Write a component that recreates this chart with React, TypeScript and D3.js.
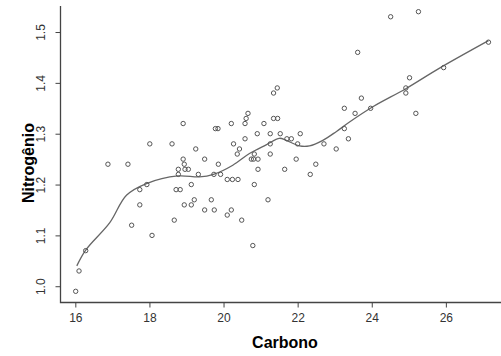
import React, { useRef, useEffect } from 'react';
import * as d3 from 'd3';

// scatter data
const carbono = [
  18.91, 18.01, 18.61, 19.25, 19.78, 19.85, 21.45, 21.35, 23.26, 20.66,
  20.21, 20.58, 20.61, 21.35, 21.46, 21.09, 23.26, 20.58, 20.91, 21.26,
  21.53, 22.07, 21.71, 21.83, 20.27, 21.26, 22.0, 22.71, 20.43, 23.04,
  23.37, 24.51, 25.26, 23.62, 27.15, 25.94, 25.02, 24.92, 24.92, 23.72,
  23.97, 23.55, 25.19, 16.88, 17.42, 18.91, 19.49, 18.94, 18.78, 18.96,
  19.05, 18.78, 19.32, 17.93, 17.74, 19.13, 18.72, 18.83, 17.74, 18.94,
  19.13, 19.21, 19.49, 18.67, 17.52, 18.07, 16.28, 16.1, 16.01, 20.37,
  20.83, 21.26, 19.86, 20.75, 20.81, 20.93, 21.96, 22.49, 20.93, 21.65,
  22.34, 19.92, 19.74, 20.1, 20.24, 20.39, 20.83, 19.67, 21.2, 19.75,
  20.21, 20.1, 20.49, 20.79,
];
const nitrogenio = [
  1.32, 1.28, 1.28, 1.27, 1.31, 1.31, 1.39, 1.38, 1.35, 1.34,
  1.32, 1.32, 1.33, 1.33, 1.33, 1.32, 1.31, 1.29, 1.3, 1.3,
  1.3, 1.3, 1.29, 1.29, 1.28, 1.28, 1.28, 1.28, 1.27, 1.27,
  1.29, 1.53, 1.54, 1.46, 1.48, 1.43, 1.41, 1.39, 1.38, 1.37,
  1.35, 1.34, 1.34, 1.24, 1.24, 1.25, 1.25, 1.24, 1.23, 1.23,
  1.23, 1.22, 1.22, 1.2, 1.19, 1.2, 1.19, 1.19, 1.16, 1.16,
  1.16, 1.17, 1.15, 1.13, 1.12, 1.1, 1.07, 1.03, 0.99, 1.26,
  1.26, 1.26, 1.24, 1.25, 1.25, 1.25, 1.25, 1.24, 1.23, 1.23,
  1.22, 1.22, 1.22, 1.21, 1.21, 1.21, 1.2, 1.17, 1.17, 1.15,
  1.15, 1.14, 1.13, 1.08,
];

// smoothed curve
const curveX = [
  16.04, 16.28, 16.93, 17.38, 17.92, 18.77, 19.35, 19.73, 20.25, 20.7,
  21.15, 21.51, 21.69, 22.05, 22.32, 22.68, 23.04, 23.4, 24.03, 24.93,
  25.83, 27.15,
];
const curveY = [
  1.04, 1.071, 1.125, 1.179, 1.202, 1.217, 1.215, 1.22, 1.238, 1.261,
  1.278, 1.291, 1.287, 1.276, 1.276, 1.287, 1.304, 1.323, 1.353, 1.389,
  1.429, 1.483,
];

const xTicks = [16, 18, 20, 22, 24, 26];
const yTicks = [1.0, 1.1, 1.2, 1.3, 1.4, 1.5];

export default function App() {
  const svgRef = useRef<SVGSVGElement>(null);

  useEffect(() => {
    const w = 501;
    const h = 356;
    const left = 60.5;
    const bottom = 302.5;
    const svg = d3.select(svgRef.current);
    svg.selectAll('*').remove();
    svg.attr('width', w).attr('height', h);

    svg.append('rect').attr('width', w).attr('height', h).attr('fill', '#fff');

    const x = d3.scaleLinear().domain([15.6, 27.65]).range([left, 507]);
    const y = d3.scaleLinear().domain([0.968, 1.562]).range([bottom, 0.5]);

    const axisColor = '#444';
    const font = 'Arial, "Liberation Sans", sans-serif';

    // axis lines (L box)
    svg
      .append('path')
      .attr('d', `M${left},6V${bottom}H${w}`)
      .attr('fill', 'none')
      .attr('stroke', axisColor)
      .attr('stroke-width', 1.3);

    // x axis
    const xAxis = d3
      .axisBottom(x)
      .tickValues(xTicks)
      .tickSize(5)
      .tickPadding(6)
      .tickFormat(d3.format('d'));
    const gx = svg.append('g').attr('transform', `translate(0,${bottom})`).call(xAxis);
    gx.select('.domain').remove();
    gx.selectAll('line').attr('stroke', axisColor);
    gx.selectAll('text')
      .attr('fill', '#333')
      .style('font-family', font)
      .style('font-size', '12px');

    // y axis, labels rotated
    const yAxis = d3
      .axisLeft(y)
      .tickValues(yTicks)
      .tickSize(5)
      .tickFormat(d3.format('.1f'));
    const gy = svg.append('g').attr('transform', `translate(${left},0)`).call(yAxis);
    gy.select('.domain').remove();
    gy.selectAll('line').attr('stroke', axisColor);
    gy.selectAll('text')
      .attr('fill', '#333')
      .attr('x', null)
      .attr('dy', null)
      .attr('text-anchor', 'middle')
      .attr('transform', 'translate(-16,0) rotate(-90)')
      .style('font-family', font)
      .style('font-size', '12px');

    // titles
    svg
      .append('text')
      .attr('x', 285)
      .attr('y', 348)
      .attr('text-anchor', 'middle')
      .style('font-family', font)
      .style('font-size', '16px')
      .style('font-weight', 'bold')
      .text('Carbono');
    svg
      .append('text')
      .attr('transform', 'translate(34,163) rotate(-90)')
      .attr('text-anchor', 'middle')
      .style('font-family', font)
      .style('font-size', '16px')
      .style('font-weight', 'bold')
      .text('Nitrogênio');

    // smooth line
    const pts: [number, number][] = curveX.map((d, i) => [d, curveY[i]]);
    const line = d3
      .line<[number, number]>()
      .x((d) => x(d[0]))
      .y((d) => y(d[1]))
      .curve(d3.curveCatmullRom);
    svg
      .append('path')
      .datum(pts)
      .attr('d', line)
      .attr('fill', 'none')
      .attr('stroke', '#666')
      .attr('stroke-width', 1.3);

    // points
    svg
      .selectAll('.pt')
      .data(carbono.map((d, i) => [d, nitrogenio[i]]))
      .join('circle')
      .attr('class', 'pt')
      .attr('cx', (d) => x(d[0]))
      .attr('cy', (d) => y(d[1]))
      .attr('r', 2.2)
      .attr('fill', 'none')
      .attr('stroke', '#555')
      .attr('stroke-width', 1);
  }, []);

  return <svg ref={svgRef} style={{ position: 'absolute', left: 0, top: 0 }}></svg>;
}
